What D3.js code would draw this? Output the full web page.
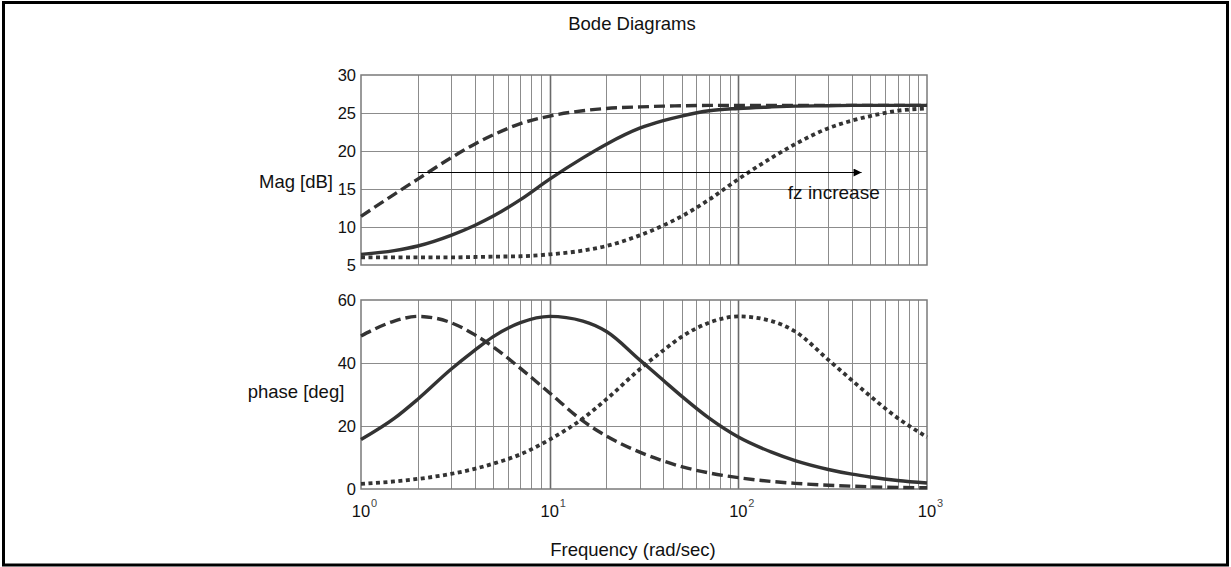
<!DOCTYPE html>
<html>
<head>
<meta charset="utf-8">
<script src="https://cdn.jsdelivr.net/npm/d3@7"></script>
<style>
  html, body { margin: 0; padding: 0; background: #fff; }
  svg { display: block; font-family: Arial, "Liberation Sans", sans-serif; }
</style>
</head>
<body>
<svg id="chart" width="1231" height="567"></svg>
<script>
// Frequency samples (rad/sec)
const freq = [1, 1.5, 2, 3, 4, 5, 7, 10, 15, 20, 30, 40, 50, 70, 100, 150, 200, 300, 400, 500, 700, 1000];

// Magnitude [dB] for the three zero locations
const magDashed = [11.4, 14.3, 16.3, 19.1, 20.9, 22.1, 23.6, 24.6, 25.3, 25.6, 25.8, 25.9, 25.95, 26, 26, 26, 26, 26, 26, 26, 26, 26];
const magSolid  = [6.4, 6.9, 7.5, 8.9, 10.2, 11.4, 13.6, 16.3, 19.1, 20.9, 23.0, 24.0, 24.6, 25.3, 25.6, 25.8, 25.9, 25.95, 26, 26, 26, 26];
const magDotted = [6.0, 6.0, 6.0, 6.0, 6.05, 6.1, 6.15, 6.4, 6.9, 7.5, 8.9, 10.2, 11.4, 13.6, 16.3, 19.1, 20.9, 23.0, 24.0, 24.6, 25.3, 25.6];

// Phase [deg] for the three zero locations
const phDashed = [48.6, 53.3, 54.8, 52.8, 49.0, 45.2, 38.3, 30.5, 21.6, 16.8, 11.7, 8.9, 7.1, 5.1, 3.6, 2.4, 1.8, 1.2, 0.9, 0.7, 0.5, 0.4];
const phSolid  = [15.7, 22.4, 28.5, 38.0, 44.0, 48.3, 52.8, 54.8, 53.3, 50.0, 41.0, 34.5, 29.5, 22.5, 16.5, 11.7, 9.0, 6.2, 4.7, 3.8, 2.7, 1.9];
const phDotted = [1.6, 2.4, 3.2, 4.8, 6.4, 8.0, 11.0, 15.7, 22.4, 28.5, 38.0, 44.0, 48.3, 52.8, 54.8, 53.3, 50.0, 41.0, 34.5, 29.5, 22.5, 16.5];

// Axis ticks
const magTicks = [5, 10, 15, 20, 25, 30];
const phaseTicks = [0, 20, 40, 60];
const decadeExponents = [0, 1, 2, 3];

// Annotation
const arrowFreq = [2, 450];
const arrowMag = 17.25;
const noteText = "fz increase";
const noteFreq = 183;
const noteMag = 13.7;

const svg = d3.select("#chart");

// Outer frame
svg.append("rect")
  .attr("x", 3.5).attr("y", 2.5)
  .attr("width", 1224).attr("height", 562.5)
  .attr("fill", "none").attr("stroke", "#000").attr("stroke-width", 3);

const left = 361, right = 927;
const x = d3.scaleLog().domain([1, 1000]).range([left, right]);
const yMag = d3.scaleLinear().domain([5, 30]).range([265, 75]);
const yPh = d3.scaleLinear().domain([0, 60]).range([489, 300]);

// Grid frequencies: 2..9 within each decade
const gridFreqs = [];
for (let e = 0; e < 3; e++) for (let k = 2; k <= 9; k++) gridFreqs.push(k * Math.pow(10, e));
const decadeFreqs = [10, 100];

function panel(y, ticks, series) {
  const g = svg.append("g");
  const [y0, y1] = y.range();
  // vertical minor grid
  g.selectAll(".vg").data(gridFreqs.filter(f => f !== 10 && f !== 100)).join("line")
    .attr("x1", d => Math.round(x(d)) + 0.5).attr("x2", d => Math.round(x(d)) + 0.5)
    .attr("y1", y1).attr("y2", y0)
    .attr("stroke", "#8c8c8c").attr("stroke-width", 1);
  g.selectAll(".vd").data(decadeFreqs).join("line")
    .attr("x1", d => Math.round(x(d)) + 0.5).attr("x2", d => Math.round(x(d)) + 0.5)
    .attr("y1", y1).attr("y2", y0)
    .attr("stroke", "#6a6a6a").attr("stroke-width", 1.6);
  // horizontal grid
  g.selectAll(".hg").data(ticks.slice(1, -1)).join("line")
    .attr("x1", left).attr("x2", right)
    .attr("y1", d => Math.round(y(d)) + 0.5).attr("y2", d => Math.round(y(d)) + 0.5)
    .attr("stroke", "#8c8c8c").attr("stroke-width", 1);
  // frame
  g.append("rect")
    .attr("x", left).attr("y", y1)
    .attr("width", right - left).attr("height", y0 - y1)
    .attr("fill", "none").attr("stroke", "#7a7a7a").attr("stroke-width", 1.5);
  // y tick labels
  g.selectAll(".yt").data(ticks).join("text")
    .attr("x", left - 5).attr("y", d => y(d) + 6)
    .attr("text-anchor", "end").attr("font-size", 16.5).attr("fill", "#111")
    .text(d => d);
  // curves
  series.forEach(s => {
    const line = d3.line().x((d, i) => x(freq[i])).y(d => y(d)).curve(d3.curveMonotoneX);
    g.append("path").datum(s.values)
      .attr("d", line)
      .attr("fill", "none").attr("stroke", "#333")
      .attr("stroke-width", s.width)
      .attr("stroke-dasharray", s.dash)
      .attr("stroke-linejoin", "round");
  });
  return g;
}

panel(yMag, magTicks, [
  { values: magDashed, dash: "11,5", width: 3.4 },
  { values: magSolid, dash: null, width: 3.4 },
  { values: magDotted, dash: "4,3.5", width: 3.8 }
]);
panel(yPh, phaseTicks, [
  { values: phDashed, dash: "11,5", width: 3.4 },
  { values: phSolid, dash: null, width: 3.4 },
  { values: phDotted, dash: "4,3.5", width: 3.8 }
]);

// x tick labels: "10" centred on the decade line, exponent raised to its right
const xt = svg.selectAll(".xt").data(decadeExponents).join("g")
  .attr("transform", d => `translate(${x(Math.pow(10, d))},517)`);
xt.append("text")
  .attr("text-anchor", "middle").attr("font-size", 16.5).attr("fill", "#111")
  .text("10");
xt.append("text")
  .attr("x", 10).attr("y", -10)
  .attr("font-size", 11).attr("fill", "#444")
  .text(d => d);

// Arrow annotation
svg.append("defs").append("marker")
  .attr("id", "head").attr("viewBox", "0 0 10 10")
  .attr("refX", 10).attr("refY", 5)
  .attr("markerWidth", 11).attr("markerHeight", 8)
  .attr("markerUnits", "userSpaceOnUse")
  .attr("orient", "auto")
  .append("path").attr("d", "M0,0 L10,5 L0,10 Z").attr("fill", "#000");
svg.append("line")
  .attr("x1", x(arrowFreq[0])).attr("x2", x(arrowFreq[1]))
  .attr("y1", Math.round(yMag(arrowMag)) + 0.5).attr("y2", Math.round(yMag(arrowMag)) + 0.5)
  .attr("stroke", "#000").attr("stroke-width", 1)
  .attr("marker-end", "url(#head)");
svg.append("text")
  .attr("x", x(noteFreq)).attr("y", yMag(noteMag))
  .attr("font-size", 19).attr("fill", "#111")
  .text(noteText);

// Titles and axis labels
svg.append("text").attr("x", 632).attr("y", 30).attr("text-anchor", "middle")
  .attr("font-size", 18.5).attr("fill", "#111").text("Bode Diagrams");
svg.append("text").attr("x", 296).attr("y", 188).attr("text-anchor", "middle")
  .attr("font-size", 18.5).attr("fill", "#111").text("Mag [dB]");
svg.append("text").attr("x", 296).attr("y", 398).attr("text-anchor", "middle")
  .attr("font-size", 18.5).attr("fill", "#111").text("phase [deg]");
svg.append("text").attr("x", 633).attr("y", 556).attr("text-anchor", "middle")
  .attr("font-size", 18.5).attr("fill", "#111").text("Frequency (rad/sec)");
</script>
</body>
</html>
